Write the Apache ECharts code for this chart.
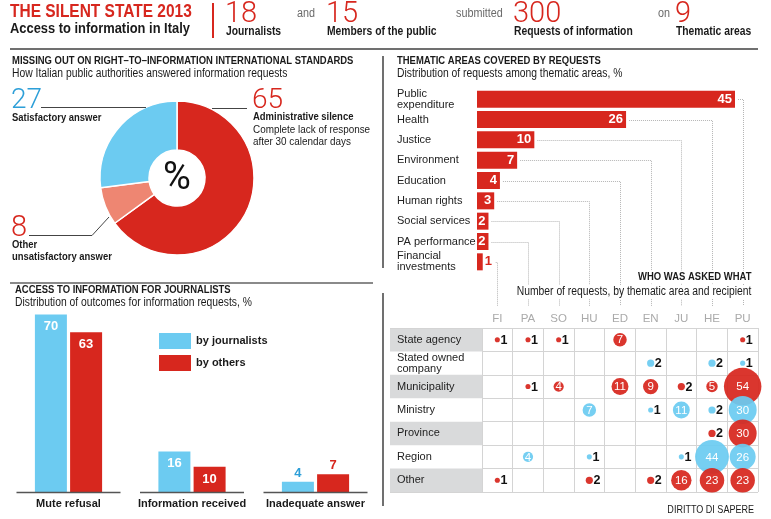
<!DOCTYPE html>
<html><head><meta charset="utf-8">
<script src="https://cdn.jsdelivr.net/npm/echarts@6/dist/echarts.min.js"></script>
<style>html,body{margin:0;padding:0;background:#fff}#main{width:771px;height:519px}</style>
</head><body><div id="main"></div>
<script>
// ---- data ----
const pieNames = ['Administrative silence', 'Other unsatisfactory answer', 'Satisfactory answer'];
const pieValues = [65, 8, 27];

const areaNames = ['Public\nexpenditure', 'Health', 'Justice', 'Environment', 'Education', 'Human rights', 'Social services', 'PA performance', 'Financial\ninvestments'];
const areaValues = [45, 26, 10, 7, 4, 3, 2, 2, 1];
const areaCodes = ['PU', 'HE', 'JU', 'EN', 'ED', 'HU', 'SO', 'PA', 'FI'];

const outcomeCats = ['Mute refusal', 'Information received', 'Inadequate answer'];
const byJournalists = [70, 16, 4];
const byOthers = [63, 10, 7];

const matrixCols = ['FI', 'PA', 'SO', 'HU', 'ED', 'EN', 'JU', 'HE', 'PU'];
const recipients = ['State agency', 'Stated owned\ncompany', 'Municipality', 'Ministry', 'Province', 'Region', 'Other'];
const recipientKind = [0, 1, 0, 1, 0, 1, 0]; // 0 = red group, 1 = blue group
const rowStateAgency = [1, 1, 1, null, 7, null, null, null, 1];
const rowStateOwned  = [null, null, null, null, null, 2, null, 2, 1];
const rowMunicipality = [null, 1, 4, null, 11, 9, 2, 5, 54];
const rowMinistry    = [null, null, null, 7, null, 1, 11, 2, 30];
const rowProvince    = [null, null, null, null, null, null, null, 2, 30];
const rowRegion      = [null, 4, null, 1, null, null, 1, 44, 26];
const rowOther       = [1, null, null, 2, null, 2, 16, 23, 23];
const matrixRows = [rowStateAgency, rowStateOwned, rowMunicipality, rowMinistry, rowProvince, rowRegion, rowOther];

// ---- style ----
const F = "'Liberation Sans', Arial, sans-serif";
const FN = "Roboto, 'Liberation Sans', sans-serif";
const RED = '#d7271e', BLUE = '#6ccbf1', SALMON = '#ee8672', TXT = '#1a1a1a';
const SX = 0.86;

const matrixData = [];
matrixRows.forEach((row, r) => row.forEach((v, c) => { if (v != null) matrixData.push([c, r, v, recipientKind[r]]); }));

const chart = echarts.init(document.getElementById('main'));

chart.setOption({
  animation: false,
  textStyle: { fontFamily: F },
  legend: {
    data: ['by journalists', 'by others'], orient: 'vertical', left: 159, top: 333,
    itemWidth: 32, itemHeight: 16, itemGap: 6, icon: 'rect', padding: 0,
    textStyle: { fontFamily: F, fontWeight: 'bold', fontSize: 11, color: TXT }
  },
  grid: [
    { left: 477, top: 89, width: 258, height: 183 },
    { left: 6.75, top: 289, width: 370.5, height: 203 },
    { left: 482, top: 328, width: 276, height: 164 }
  ],
  xAxis: [
    { gridIndex: 0, type: 'value', min: 0, max: 45, show: false },
    { gridIndex: 1, type: 'category', data: outcomeCats, axisLine: { show: false }, axisTick: { show: false },
      axisLabel: { interval: 0, fontFamily: F, fontWeight: 'bold', fontSize: 11, color: TXT, margin: 6 } },
    { gridIndex: 2, type: 'category', data: matrixCols, position: 'top', axisLine: { show: false }, axisTick: { show: false },
      axisLabel: { interval: 0, fontFamily: F, color: '#aaaaaa', fontSize: 11.5, margin: 3 },
      splitLine: { show: true, interval: 0, lineStyle: { color: '#d4d4d4' } } }
  ],
  yAxis: [
    { gridIndex: 0, type: 'category', data: areaNames, inverse: true, axisLine: { show: false }, axisTick: { show: false },
      axisLabel: { interval: 0, align: 'left', margin: 80, fontFamily: F, fontSize: 11, color: '#222', lineHeight: 11 } },
    { gridIndex: 1, type: 'value', min: 0, max: 80, show: false },
    { gridIndex: 2, type: 'category', data: recipients, inverse: true, axisLine: { show: false }, axisTick: { show: false },
      axisLabel: { interval: 0, align: 'left', margin: 85, fontFamily: F, fontSize: 11, color: '#222', lineHeight: 11 },
      splitLine: { show: true, interval: 0, lineStyle: { color: '#d4d4d4' } } }
  ],
  series: [
    { type: 'bar', xAxisIndex: 0, yAxisIndex: 0, barWidth: 17, itemStyle: { color: RED },
      data: areaValues.map(v => ({ value: v, label: v > 1
        ? { show: true, position: 'insideRight', distance: 3, color: '#fff', fontWeight: 'bold', fontSize: 13, fontFamily: F }
        : { show: true, position: 'right', distance: 2, color: RED, fontWeight: 'bold', fontSize: 13, fontFamily: F } })) },
    { name: 'by journalists', type: 'bar', xAxisIndex: 1, yAxisIndex: 1, barWidth: 32, barGap: '10%', itemStyle: { color: BLUE },
      data: byJournalists.map(v => ({ value: v, label: v > 5
        ? { show: true, position: 'insideTop', distance: 6, color: '#fff', fontWeight: 'bold', fontSize: 13, fontFamily: F }
        : { show: true, position: 'top', distance: 2, color: '#2d9fd8', fontWeight: 'bold', fontSize: 13, fontFamily: F } })) },
    { name: 'by others', type: 'bar', xAxisIndex: 1, yAxisIndex: 1, barWidth: 32, itemStyle: { color: RED },
      data: byOthers.map(v => ({ value: v, label: v > 8
        ? { show: true, position: 'insideTop', distance: 6, color: '#fff', fontWeight: 'bold', fontSize: 13, fontFamily: F }
        : { show: true, position: 'top', distance: 2, color: RED, fontWeight: 'bold', fontSize: 13, fontFamily: F } })) },
    { type: 'pie', center: [177, 178], radius: [28, 77], startAngle: 90, clockwise: true, label: { show: false }, labelLine: { show: false },
      itemStyle: { borderColor: '#fff', borderWidth: 1.5 },
      data: pieNames.map((n, i) => ({ name: n, value: pieValues[i], itemStyle: { color: [RED, SALMON, BLUE][i] } })) },
    { type: 'custom', xAxisIndex: 2, yAxisIndex: 2, data: matrixData, z: 3,
      renderItem: (params, api) => {
        const p = api.coord([api.value(0), api.value(1)]);
        const v = api.value(2);
        const r = 2.55 * Math.sqrt(v);
        return { type: 'circle', shape: { cx: p[0], cy: p[1], r: r },
          style: { fill: api.value(3) === 0 ? RED : BLUE, opacity: 0.93, blend: 'multiply' } };
      } },
    { type: 'custom', xAxisIndex: 2, yAxisIndex: 2, data: matrixData, z: 4,
      renderItem: (params, api) => {
        const p = api.coord([api.value(0), api.value(1)]);
        const v = api.value(2);
        const r = 2.55 * Math.sqrt(v);
        const small = v <= 2;
        return { type: 'text', x: small ? p[0] + r + 0.5 : p[0], y: p[1] + 0.5,
          style: { text: String(v), fill: small ? '#111' : '#fff', align: small ? 'left' : 'center', verticalAlign: 'middle',
            font: (small ? 'bold 12.5px ' : 'normal 11.5px ') + F } };
      } }
  ]
});

// ---- graphics (text, rules, connectors) ----
function T(text, x, y, size, opts) {
  opts = opts || {};
  return { type: 'text', x: x, y: y, z: opts.z || 10, silent: true, scaleX: opts.sx == null ? SX : opts.sx,
    style: { text: text, fill: opts.color || TXT, align: opts.align || 'left', verticalAlign: 'middle',
      font: (opts.weight || 'normal') + ' ' + size + 'px ' + (opts.family || F),
      backgroundColor: opts.bg, padding: opts.bg ? [1, 3, 1, 3] : 0 } };
}
function L(x1, y1, x2, y2, color, w, dash, z) {
  return { type: 'line', z: z || 5, silent: true, shape: { x1: x1, y1: y1, x2: x2, y2: y2 },
    style: { stroke: color, lineWidth: w || 1, lineDash: dash } };
}
const g = [];
// header
g.push(T('THE SILENT STATE 2013', 10, 12, 18, { weight: 'bold', color: RED }));
g.push(T('Access to information in Italy', 10, 29, 15, { weight: 'bold' }));
g.push(L(213, 3, 213, 38, RED, 2));
[['18', 225, 'Journalists'], ['15', 326, 'Members of the public'], ['300', 513, 'Requests of information'], ['9', 675, 'Thematic areas']]
  .forEach(h => { g.push(T(h[0], h[1], 15, 29, { color: RED, family: FN, weight: '300', sx: 1 })); g.push(T(h[2], h[1] + 1, 32, 12, { weight: 'bold' })); });
[['and', 297], ['submitted', 456], ['on', 658]].forEach(h => g.push(T(h[0], h[1], 14, 12, { color: '#6a6a6a', sx: 0.9 })));
g.push(L(10, 49, 758, 49, '#707070', 2));
// dividers
g.push(L(383, 56, 383, 268, '#707070', 2));
g.push(L(383, 293, 383, 506, '#707070', 2));
g.push(L(10, 283, 373, 283, '#8a8a8a', 2));
// pie section
g.push(T('MISSING OUT ON RIGHT\u2013TO\u2013INFORMATION INTERNATIONAL STANDARDS', 12, 61, 11, { weight: 'bold' }));
g.push(T('How Italian public authorities answered information requests', 12, 74, 12));
g.push(T('27', 11, 101, 28, { color: '#2d9fd8', family: FN, weight: '300', sx: 1 }));
g.push(L(41, 107.5, 146, 107.5, '#444', 1));
g.push(T('Satisfactory answer', 12, 118, 11, { weight: 'bold' }));
g.push(T('65', 252, 101, 28, { color: RED, family: FN, weight: '300', sx: 1 }));
g.push(L(212, 108.5, 247, 108.5, '#444', 1));
g.push(T('Administrative silence', 253, 117, 11, { weight: 'bold' }));
g.push(T('Complete lack of response', 253, 130, 11.5));
g.push(T('after 30 calendar days', 253, 142, 11.5));
g.push(T('8', 11, 228.5, 29, { color: RED, family: FN, weight: '300', sx: 1 }));
g.push({ type: 'polyline', z: 5, silent: true, shape: { points: [[29, 235.5], [92, 235.5], [109, 217]] }, style: { stroke: '#444', lineWidth: 1, fill: null } });
g.push(T('Other', 12, 245, 11, { weight: 'bold' }));
g.push(T('unsatisfactory answer', 12, 257, 11, { weight: 'bold' }));
g.push(T('%', 177, 179, 38, { align: 'center', color: '#111', family: FN, sx: 1 }));
// thematic
g.push(T('THEMATIC AREAS COVERED BY REQUESTS', 397, 61, 11, { weight: 'bold' }));
g.push(T('Distribution of requests among thematic areas, %', 397, 74, 12));
// journalists
g.push(T('ACCESS TO INFORMATION FOR JOURNALISTS', 15, 290, 11, { weight: 'bold' }));
g.push(T('Distribution of outcomes for information requests, %', 15, 303, 12));
outcomeCats.forEach(c => {
  const p = chart.convertToPixel({ gridIndex: 1 }, [c, 0]);
  g.push(L(p[0] - 52, 492.5, p[0] + 52, 492.5, '#555', 1.5));
});
// matrix titles
g.push(T('WHO WAS ASKED WHAT', 754, 277, 11, { weight: 'bold', align: 'right', bg: '#fff' }));
g.push(T('Number of requests, by thematic area and recipient', 754, 292, 12, { align: 'right', bg: '#fff' }));
g.push(T('DIRITTO DI SAPERE', 754, 510, 10.5, { align: 'right' }));
// matrix label backgrounds
recipients.forEach((r, i) => {
  const p = chart.convertToPixel({ gridIndex: 2 }, [matrixCols[0], r]);
  const h = 164 / recipients.length;
  if (i % 2 === 0) g.push({ type: 'rect', z: -10, silent: true, shape: { x: 390, y: p[1] - h / 2, width: 92, height: h }, style: { fill: '#d9dadb' } });
});
g.push(L(390, 328.5, 482, 328.5, '#d4d4d4', 1, null, -5));
g.push(L(390, 492.5, 482, 492.5, '#d4d4d4', 1, null, -5));
// connectors from thematic bars to matrix columns
areaValues.forEach((v, i) => {
  const e = chart.convertToPixel({ gridIndex: 0 }, [v, areaNames[i]]);
  const cx = Math.round(chart.convertToPixel({ gridIndex: 2 }, [areaCodes[i], recipients[0]])[0]) + 0.5;
  const y = Math.round(e[1]) + 0.5;
  const sx = e[0] + (v > 1 ? 3 : 13);
  g.push({ type: 'polyline', z: 2, silent: true, shape: { points: [[sx, y], [cx, y], [cx, 306]] },
    style: { stroke: '#b5b5b5', lineWidth: 1, lineDash: [1, 1], fill: null } });
});
chart.setOption({ graphic: g });
</script>
</body></html>
